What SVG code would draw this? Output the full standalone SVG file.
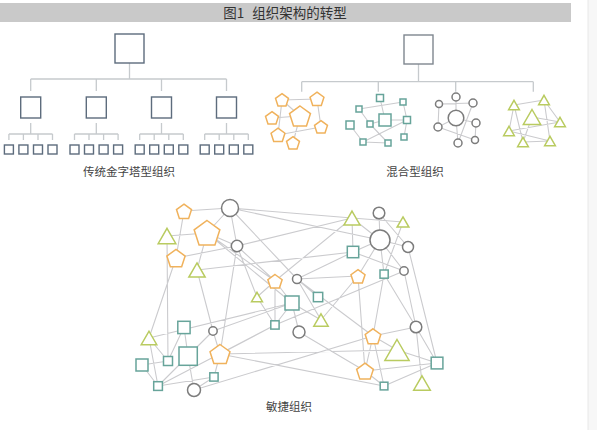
<svg xmlns="http://www.w3.org/2000/svg" xmlns:xlink="http://www.w3.org/1999/xlink" width="597" height="430" viewBox="0 0 597 430">
<style>
.tree{stroke:#c6cacd;stroke-width:1.3;fill:none}
.ln{stroke:#cbcbce;stroke-width:1.1;fill:none}
.box{fill:#fff;stroke:#5d6c7d;stroke-width:1.4}
.hbox{fill:#fff;stroke:#7f878f;stroke-width:1.4}
.pent{fill:#fff;stroke:#f0b25c;stroke-width:1.5}
.sq{fill:#fff;stroke:#67a49a;stroke-width:1.5}
.cir{fill:#fff;stroke:#7c7c7c;stroke-width:1.5}
.tri{fill:#fff;stroke:#b9cb60;stroke-width:1.5}
.lbl{font-family:"Noto Sans CJK SC","Noto Sans",sans-serif;font-size:11.5px;fill:#444;text-anchor:middle}
.ttl{font-family:"Noto Sans CJK SC","Noto Sans",sans-serif;font-size:13.5px;fill:#333;text-anchor:middle}
</style>
<defs>
<path id="pg" d="M0,-1 L0.9511,-0.309 L0.5878,0.809 L-0.5878,0.809 L-0.9511,-0.309Z" vector-effect="non-scaling-stroke"/>
<path id="tg" d="M0,-0.75 L0.866,0.75 L-0.866,0.75Z" vector-effect="non-scaling-stroke"/>
</defs>
<rect x="0" y="0" width="597" height="430" fill="#fff"/>
<rect x="588" y="0" width="9" height="430" fill="#f7f7f7"/>
<line x1="588" y1="0" x2="588" y2="430" stroke="#e8e8e8" stroke-width="1"/>
<g id="title">
<rect x="0" y="3" width="571" height="19" fill="#c9c9c9"/>
<text class="ttl" x="285" y="17.5">图1<tspan dx="8">组织架构的转型</tspan></text>
</g>

<g id="connectors">
<path class="tree" d="M129.5,63V79M30.7,79H226.5M30.7,79V91M96.3,79V91M161.5,79V91M226.5,79V91
M30.7,123V134M8.9,134H52.5M8.9,134V140M23.4,134V140M38,134V140M52.5,134V140
M96.3,123V134M74.5,134H118.1M74.5,134V140M89,134V140M103.6,134V140M118.1,134V140
M161.5,123V134M139.7,134H183.3M139.7,134V140M154.2,134V140M168.8,134V140M183.3,134V140
M226.5,123V134M204.7,134H248.3M204.7,134V140M219.2,134V140M233.8,134V140M248.3,134V140
M418.5,64V81.7M301.7,81.7H533.3M301.7,81.7V91.7M378.3,81.7V91.7M455.7,81.7V91.7M533.3,81.7V91.7"/>
<path class="ln" d="M282,100L317,99M282,100L278,135M272,118L300,116M317,99L321,127M300,116L293,143M278,135L321,127M282,100L300,116
M380,98L385,120M359,109L403,102M359,109L370,124M350,125L363,142M370,124L385,120M385,120L407,120M407,120L404,137M363,142L388,143M403,102L407,120M370,124L388,143M363,142L407,120
M456,97L456,118M439,104L473,103M439,104L438,127M438,127L456,118M456,118L476,123M456,118L458,143M438,127L475,140M473,103L458,143M476,123L475,140
M514,105L544,100M514,105L509,131M544,100L560,122M544,100L550,141M532,117L560,122M509,131L560,122M523,142L550,141M514,105L523,142M532,117L523,142M509,131L550,141"/>
<path class="ln" d="M184,211L230,208M184,211L176,258M167,236L207,233M207,233L230,208M230,208L237,246M207,233L237,246M237,246L352,218M176,258L237,246
M197,270L353,252M197,270L207,233M207,233L275,281M207,233L292,303M237,246L220,354M167,236L168,361M176,258L149,338M197,270L213,331
M230,208L380,240M230,208L297,279M275,281L352,218M297,279L353,252M297,279L358,276M230,208L352,218M237,246L275,281M237,246L257,297
M257,297L275,281M275,281L292,303M275,281L275,325M257,297L275,325M292,303L275,325M275,325L220,354M275,325L404,271M158,386L275,325
M213,331L292,303M149,338L292,303M149,338L168,361M149,338L158,386M184,327L168,361M184,327L188,356M168,361L142,365M142,365L158,386
M158,386L188,356M158,386L214,377M188,356L194,390M188,356L213,331M213,331L220,354M220,354L214,377M194,390L214,377M194,390L373,336
M220,354L397,350M220,354L384,386M299,332L365,371M299,332L292,303M292,303L321,320M297,279L321,320M297,279L373,336M318,297L297,279
M358,276L321,320M358,276L365,371M352,218L403,222M379,213L380,240M379,213L408,247M403,222L384,274M380,240L353,252M380,240L408,247
M353,252L404,271M352,218L353,252M352,218L380,240M380,240L384,274M380,240L404,271M358,276L380,240M408,247L437,363M404,271L416,327
M384,274L373,336M384,274L416,327M373,336L416,327M373,336L397,350M373,336L365,371M373,336L384,386M397,350L437,363M365,371L437,363
M365,371L384,386M384,386L437,363M416,327L422,383M416,327L437,363"/>
</g>

<g id="pyr-top"><rect class="box" x="115" y="34" width="29" height="29"/></g>
<g id="pyr-m1"><rect class="box" x="20.7" y="97" width="20" height="21"/></g>
<g id="pyr-m2"><rect class="box" x="86.3" y="97" width="20" height="21"/></g>
<g id="pyr-m3"><rect class="box" x="151.5" y="97" width="20" height="21"/></g>
<g id="pyr-m4"><rect class="box" x="216.5" y="97" width="20" height="21"/></g>
<g id="pyr-s1a"><rect class="box" x="4.4" y="145" width="9" height="9"/></g>
<g id="pyr-s1b"><rect class="box" x="18.9" y="145" width="9" height="9"/></g>
<g id="pyr-s1c"><rect class="box" x="33.5" y="145" width="9" height="9"/></g>
<g id="pyr-s1d"><rect class="box" x="48" y="145" width="9" height="9"/></g>
<g id="pyr-s2a"><rect class="box" x="70" y="145" width="9" height="9"/></g>
<g id="pyr-s2b"><rect class="box" x="84.5" y="145" width="9" height="9"/></g>
<g id="pyr-s2c"><rect class="box" x="99.1" y="145" width="9" height="9"/></g>
<g id="pyr-s2d"><rect class="box" x="113.6" y="145" width="9" height="9"/></g>
<g id="pyr-s3a"><rect class="box" x="135.2" y="145" width="9" height="9"/></g>
<g id="pyr-s3b"><rect class="box" x="149.7" y="145" width="9" height="9"/></g>
<g id="pyr-s3c"><rect class="box" x="164.3" y="145" width="9" height="9"/></g>
<g id="pyr-s3d"><rect class="box" x="178.8" y="145" width="9" height="9"/></g>
<g id="pyr-s4a"><rect class="box" x="200.2" y="145" width="9" height="9"/></g>
<g id="pyr-s4b"><rect class="box" x="214.7" y="145" width="9" height="9"/></g>
<g id="pyr-s4c"><rect class="box" x="229.3" y="145" width="9" height="9"/></g>
<g id="pyr-s4d"><rect class="box" x="243.8" y="145" width="9" height="9"/></g>
<g id="label-pyramid"><text class="lbl" x="129" y="176">传统金字塔型组织</text></g>

<g id="hyb-top"><rect class="hbox" x="404" y="35" width="29" height="29"/></g>
<g id="h-p1"><use xlink:href="#pg" class="pent" transform="translate(282,100.5) scale(6.8)"/></g>
<g id="h-p2"><use xlink:href="#pg" class="pent" transform="translate(317,99.5) scale(7.3)"/></g>
<g id="h-p3"><use xlink:href="#pg" class="pent" transform="translate(300,117) scale(11)"/></g>
<g id="h-p4"><use xlink:href="#pg" class="pent" transform="translate(272,118.5) scale(6.8)"/></g>
<g id="h-p5"><use xlink:href="#pg" class="pent" transform="translate(321,127.5) scale(6.8)"/></g>
<g id="h-p6"><use xlink:href="#pg" class="pent" transform="translate(278,135.5) scale(7.3)"/></g>
<g id="h-p7"><use xlink:href="#pg" class="pent" transform="translate(293,143.5) scale(6.8)"/></g>
<g id="h-s1"><rect class="sq" x="376.5" y="94.5" width="7" height="7"/></g>
<g id="h-s2"><rect class="sq" x="400" y="99" width="6" height="6"/></g>
<g id="h-s3"><rect class="sq" x="356" y="106" width="6" height="6"/></g>
<g id="h-s4"><rect class="sq" x="379" y="114" width="12" height="12"/></g>
<g id="h-s5"><rect class="sq" x="346" y="121" width="8" height="8"/></g>
<g id="h-s6"><rect class="sq" x="367" y="121" width="6" height="6"/></g>
<g id="h-s7"><rect class="sq" x="403.5" y="116.5" width="7" height="7"/></g>
<g id="h-s8"><rect class="sq" x="401" y="134" width="6" height="6"/></g>
<g id="h-s9"><rect class="sq" x="360" y="139" width="6" height="6"/></g>
<g id="h-s10"><rect class="sq" x="385" y="140" width="6" height="6"/></g>
<g id="h-c1"><circle class="cir" cx="456" cy="97" r="4"/></g>
<g id="h-c2"><circle class="cir" cx="439" cy="104" r="3.5"/></g>
<g id="h-c3"><circle class="cir" cx="473" cy="103" r="4"/></g>
<g id="h-c4"><circle class="cir" cx="456" cy="118" r="7.8"/></g>
<g id="h-c5"><circle class="cir" cx="438" cy="127" r="4"/></g>
<g id="h-c6"><circle class="cir" cx="476" cy="123" r="4"/></g>
<g id="h-c7"><circle class="cir" cx="458" cy="143" r="4"/></g>
<g id="h-c8"><circle class="cir" cx="475" cy="140" r="3.5"/></g>
<g id="h-t1"><use xlink:href="#tg" class="tri" transform="translate(514,105) scale(6.2)"/></g>
<g id="h-t2"><use xlink:href="#tg" class="tri" transform="translate(544,100) scale(6.2)"/></g>
<g id="h-t3"><use xlink:href="#tg" class="tri" transform="translate(532,117) scale(10)"/></g>
<g id="h-t4"><use xlink:href="#tg" class="tri" transform="translate(560,122) scale(6.2)"/></g>
<g id="h-t5"><use xlink:href="#tg" class="tri" transform="translate(509,131) scale(6.2)"/></g>
<g id="h-t6"><use xlink:href="#tg" class="tri" transform="translate(523,142) scale(6.2)"/></g>
<g id="h-t7"><use xlink:href="#tg" class="tri" transform="translate(550,141) scale(6.2)"/></g>
<g id="label-hybrid"><text class="lbl" x="415" y="176">混合型组织</text></g>

<g id="a-P1"><use xlink:href="#pg" class="pent" transform="translate(184,212) scale(7.9)"/></g>
<g id="a-C1"><circle class="cir" cx="230" cy="208" r="8.5"/></g>
<g id="a-T1"><use xlink:href="#tg" class="tri" transform="translate(167,236) scale(10.2)"/></g>
<g id="a-P2"><use xlink:href="#pg" class="pent" transform="translate(207,234) scale(13.5)"/></g>
<g id="a-C2"><circle class="cir" cx="237" cy="246" r="5.7"/></g>
<g id="a-P3"><use xlink:href="#pg" class="pent" transform="translate(176,259) scale(9.6)"/></g>
<g id="a-T2"><use xlink:href="#tg" class="tri" transform="translate(197,270) scale(9.4)"/></g>
<g id="a-P4"><use xlink:href="#pg" class="pent" transform="translate(275,282) scale(7.5)"/></g>
<g id="a-C3"><circle class="cir" cx="297" cy="279" r="4.5"/></g>
<g id="a-T3"><use xlink:href="#tg" class="tri" transform="translate(257,297) scale(6.3)"/></g>
<g id="a-S1"><rect class="sq" x="285" y="296" width="14" height="14"/></g>
<g id="a-T4"><use xlink:href="#tg" class="tri" transform="translate(352,218) scale(9.2)"/></g>
<g id="a-C4"><circle class="cir" cx="379" cy="213" r="5.8"/></g>
<g id="a-T5"><use xlink:href="#tg" class="tri" transform="translate(403,222) scale(6.8)"/></g>
<g id="a-C5"><circle class="cir" cx="380" cy="240" r="10"/></g>
<g id="a-C6"><circle class="cir" cx="408" cy="247" r="5.5"/></g>
<g id="a-S2"><rect class="sq" x="347.3" y="246.3" width="11.4" height="11.4"/></g>
<g id="a-C7"><circle class="cir" cx="404" cy="271" r="4.2"/></g>
<g id="a-S3"><rect class="sq" x="380" y="270" width="8.2" height="8.2"/></g>
<g id="a-P5"><use xlink:href="#pg" class="pent" transform="translate(358,277) scale(7.4)"/></g>
<g id="a-S4"><rect class="sq" x="313.4" y="292.4" width="9.3" height="9.3"/></g>
<g id="a-T6"><use xlink:href="#tg" class="tri" transform="translate(321,320) scale(8.3)"/></g>
<g id="a-C8"><circle class="cir" cx="299" cy="332" r="6"/></g>
<g id="a-P6"><use xlink:href="#pg" class="pent" transform="translate(373,337) scale(8.2)"/></g>
<g id="a-C9"><circle class="cir" cx="416" cy="327" r="5.8"/></g>
<g id="a-T7"><use xlink:href="#tg" class="tri" transform="translate(397,350) scale(14)"/></g>
<g id="a-S5"><rect class="sq" x="431.2" y="357.2" width="11.7" height="11.7"/></g>
<g id="a-P7"><use xlink:href="#pg" class="pent" transform="translate(365,372) scale(8.8)"/></g>
<g id="a-S6"><rect class="sq" x="380.2" y="382.2" width="7.7" height="7.7"/></g>
<g id="a-T8"><use xlink:href="#tg" class="tri" transform="translate(422,383) scale(9.6)"/></g>
<g id="a-T9"><use xlink:href="#tg" class="tri" transform="translate(149,338) scale(9)"/></g>
<g id="a-S7"><rect class="sq" x="177.8" y="321.3" width="12.3" height="12.3"/></g>
<g id="a-C10"><circle class="cir" cx="213" cy="331" r="4.2"/></g>
<g id="a-S8"><rect class="sq" x="179" y="347" width="18.3" height="18.3"/></g>
<g id="a-S9"><rect class="sq" x="163.5" y="356.5" width="9" height="9"/></g>
<g id="a-S10"><rect class="sq" x="136" y="359" width="12" height="12"/></g>
<g id="a-P8"><use xlink:href="#pg" class="pent" transform="translate(220,355) scale(10.5)"/></g>
<g id="a-S11"><rect class="sq" x="209.8" y="372.8" width="8.3" height="8.3"/></g>
<g id="a-S12"><rect class="sq" x="153.7" y="381.7" width="8.7" height="8.7"/></g>
<g id="a-C11"><circle class="cir" cx="194" cy="390" r="6.5"/></g>
<g id="a-S13"><rect class="sq" x="270.8" y="320.8" width="8.3" height="8.3"/></g>
<g id="label-agile"><text class="lbl" x="289" y="411">敏捷组织</text></g>
</svg>
